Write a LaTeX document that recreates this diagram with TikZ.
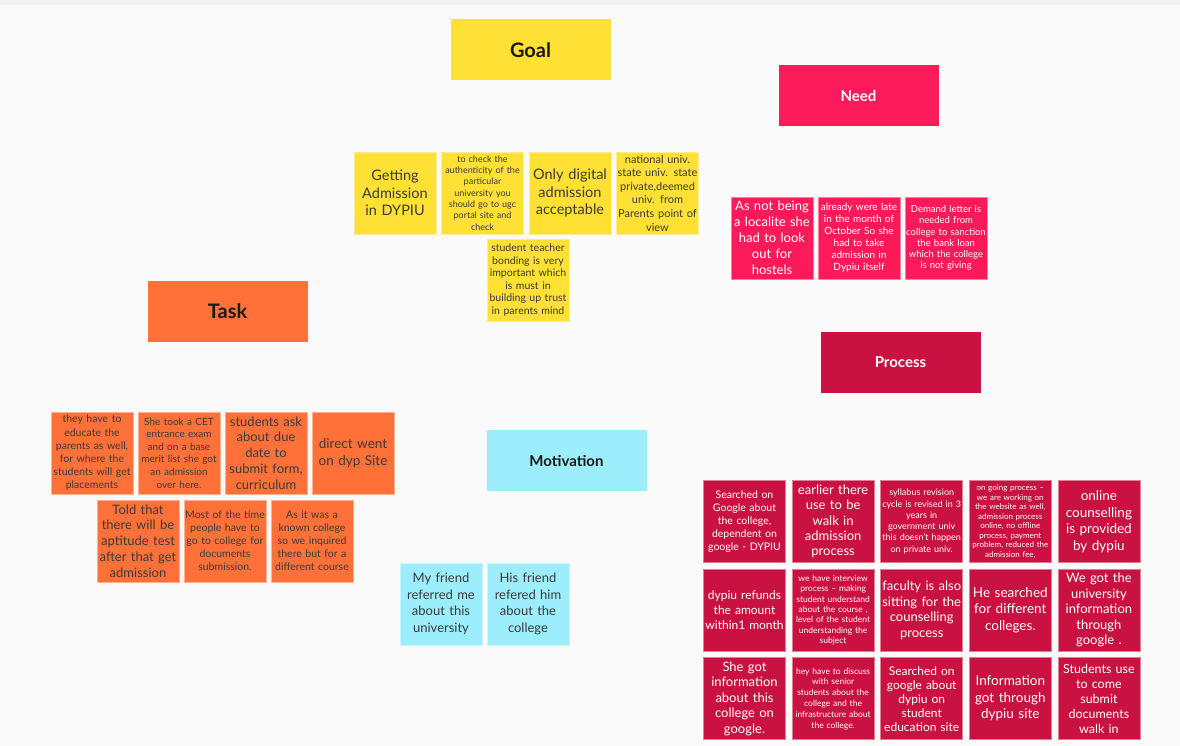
\documentclass[tikz,border=0pt]{standalone}
\usepackage{fontspec}
\setmainfont{Lato}
\usetikzlibrary{positioning, matrix}

\definecolor{goalyellow}{HTML}{FFE135}
\definecolor{needpink}{HTML}{FC1A5B}
\definecolor{taskorange}{HTML}{FF7139}
\definecolor{processred}{HTML}{C91242}
\definecolor{motivcyan}{HTML}{9DEEFC}
\definecolor{notetext}{HTML}{3A3A3A}
\definecolor{boardbg}{HTML}{FAFAFA}
\definecolor{topbar}{HTML}{F2F2F2}

\begin{document}
\begin{tikzpicture}[x=1pt, y=-1pt,
    note/.style={minimum size=82pt, text width=80pt, inner sep=1pt, outer sep=0pt, align=center, line width=0.6pt},
    fs/.style args={#1/#2}{font=\fontsize{#1}{#2}\selectfont},
    G/.style={note, fill=goalyellow, draw=goalyellow!55!white, text=notetext},
    N/.style={note, fill=needpink, draw=needpink!55!white, text=white},
    T/.style={note, fill=taskorange, draw=taskorange!55!white, text=notetext},
    M/.style={note, fill=motivcyan, draw=motivcyan!55!white, text=notetext},
    P/.style={note, fill=processred, draw=processred!55!white, text=white},
    header/.style={minimum width=160pt, minimum height=61pt, inner sep=0pt, outer sep=0pt},
    hbig/.style={header, font=\fontsize{20}{24}\selectfont\bfseries, text=black!90},
    hsmall/.style={header, font=\fontsize{15}{18}\selectfont\bfseries}]

    \useasboundingbox (0,0) rectangle (1180,746);
    \clip (0,0) rectangle (1180,746);
    \fill[boardbg] (0,0) rectangle (1180,746);
    \fill[topbar] (0,0) rectangle (1180,5);

    % Headers
    \node[hbig, fill=goalyellow] (goal) at (530.5,50) {Goal};
    \node[hsmall, fill=needpink, text=white] (need) at (858.5,96) {Need};
    \node[hbig, fill=taskorange] (task) at (227.5,311.5) {Task};
    \node[hsmall, fill=processred, text=white] (process) at (900.5,362.5) {Process};
    \node[hsmall, fill=motivcyan, text=black!90] (motivation) at (566.5,460.5) {Motivation};

    % Goal notes
    \node[G, fs=14.5/17.5, anchor=north west] (g1) at (354,152) {Getting\\Admission\\in DYPIU};
    \node[G, fs=9/11.3, right=5.5pt of g1] (g2) {to check the\\authenticity of the\\particular\\university you\\should go to ugc\\portal site and\\check};
    \node[G, fs=14.5/17.5, right=5.5pt of g2] (g3) {Only digital\\admission\\acceptable};
    \node[G, fs=11/13.6, right=5.5pt of g3] (g4) {national univ.\\state univ. state\\private,deemed\\univ. from\\Parents point of\\view};
    \node[G, fs=10.5/12.6, anchor=north west] (g5) at (487,239) {student teacher\\bonding is very\\important which\\is must in\\building up trust\\in parents mind};

    % Need notes
    \node[N, fs=13/16, anchor=north west] (n1) at (731,197) {As not being\\a localite she\\had to look\\out for\\hostels};
    \node[N, fs=10/12, right=5pt of n1] (n2) {already were late\\in the month of\\October So she\\had to take\\admission in\\Dypiu itself};
    \node[N, fs=9.5/11.2, right=5pt of n2] (n3) {Demand letter is\\needed from\\college to sanction\\the bank loan\\which the college\\is not giving};

    % Task notes
    \node[T, fs=10.5/13.2, anchor=north west] (t1) at (51,412) {they have to\\educate the\\parents as well,\\for where the\\students will get\\placements};
    \node[T, fs=10/12.6, right=5pt of t1] (t2) {She took a CET\\entrance exam\\and on a base\\merit list she got\\an admission\\over here.};
    \node[T, fs=13/15.8, right=5pt of t2] (t3) {students ask\\about due\\date to\\submit form,\\curriculum};
    \node[T, fs=13.5/16.5, right=5pt of t3] (t4) {direct went\\on dyp Site};
    \node[T, fs=13/15.8, anchor=north west] (t5) at (97,500) {Told that\\there will be\\aptitude test\\after that get\\admission};
    \node[T, fs=10.5/13, right=5pt of t5] (t6) {Most of the time\\people have to\\go to college for\\documents\\submission.};
    \node[T, fs=10.5/13, right=5pt of t6] (t7) {As it was a\\known college\\so we inquired\\there but for a\\different course};

    % Motivation notes
    \node[M, fs=13/16.6, anchor=north west] (m1) at (400,563) {My friend\\referred me\\about this\\university};
    \node[M, fs=13/16.6, right=5pt of m1] (m2) {His friend\\refered him\\about the\\college};

    % Process notes
    \matrix[matrix of nodes, anchor=north west, inner sep=0pt,
        nodes={P, anchor=center},
        column sep=6pt, row sep=6pt,
        ampersand replacement=\&] (p) at (703,480) {
        |[fs=10.5/13]| {Searched on\\Google about\\the college,\\dependent on\\google - DYPIU} \&
        |[fs=13/15.3]| {earlier there\\use to be\\walk in\\admission\\process} \&
        |[fs=9/11.3]| {syllabus revision\\cycle is revised in 3\\years in\\government univ\\this doesn't happen\\on private univ.} \&
        |[fs=8/9.5]| {on going process --\\we are working on\\the website as well,\\admission process\\online, no offline\\process, payment\\problem, reduced the\\admission fee,} \&
        |[fs=13.5/16.5]| {online\\counselling\\is provided\\by dypiu} \\
        |[fs=12/15]| {dypiu refunds\\the amount\\within1 month} \&
        |[fs=8.5/10.3]| {we have interview\\process -- making\\student understand\\about the course ,\\level of the student\\understanding the\\subject} \&
        |[fs=13/15.5]| {faculty is also\\sitting for the\\counselling\\process} \&
        |[fs=13.5/16.5]| {He searched\\for different\\colleges.} \&
        |[fs=13/15.5]| {We got the\\university\\information\\through\\google .} \\
        |[fs=13/15.5]| {She got\\information\\about this\\college on\\google.} \&
        |[fs=8.5/10.8]| {hey have to discuss\\with senior\\students about the\\college and the\\infrastructure about\\the college.} \&
        |[fs=12/14]| {Searched on\\google about\\dypiu on\\student\\education site} \&
        |[fs=13.5/16.5]| {Information\\got through\\dypiu site} \&
        |[fs=12.5/15]| {Students use\\to come\\submit\\documents\\walk in} \\
        \phantom{X} \& \phantom{X} \& \phantom{X} \& \phantom{X} \& \phantom{X} \\
    };
\end{tikzpicture}
\end{document}
